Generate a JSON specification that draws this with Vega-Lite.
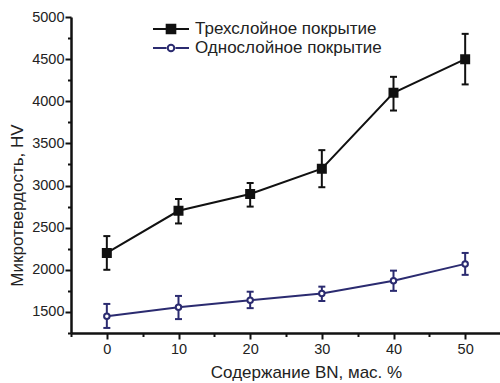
{
  "$schema": "https://vega.github.io/schema/vega-lite/v6.json",
  "width": 430,
  "height": 316,
  "autosize": {"type": "none"},
  "padding": {"left": 71, "top": 17, "right": 0, "bottom": 50},
  "background": "white",
  "config": {
    "view": {"stroke": null},
    "font": "Liberation Sans",
    "axis": {"grid": false, "domainColor": "#111", "tickColor": "#111", "labelColor": "#222", "titleColor": "#222", "labelFont": "Liberation Sans", "titleFont": "Liberation Sans", "titleFontWeight": "normal"}
  },
  "data": {
    "values": [
      {"x": 0, "series": "Трехслойное покрытие", "y": 2200, "lo": 2000, "hi": 2400},
      {"x": 10, "series": "Трехслойное покрытие", "y": 2700, "lo": 2550, "hi": 2840},
      {"x": 20, "series": "Трехслойное покрытие", "y": 2900, "lo": 2750, "hi": 3030},
      {"x": 30, "series": "Трехслойное покрытие", "y": 3200, "lo": 2980, "hi": 3420},
      {"x": 40, "series": "Трехслойное покрытие", "y": 4100, "lo": 3890, "hi": 4290},
      {"x": 50, "series": "Трехслойное покрытие", "y": 4500, "lo": 4200, "hi": 4800},
      {"x": 0, "series": "Однослойное покрытие", "y": 1450, "lo": 1310, "hi": 1595},
      {"x": 10, "series": "Однослойное покрытие", "y": 1555, "lo": 1415, "hi": 1690},
      {"x": 20, "series": "Однослойное покрытие", "y": 1640, "lo": 1545, "hi": 1740},
      {"x": 30, "series": "Однослойное покрытие", "y": 1720, "lo": 1630, "hi": 1800},
      {"x": 40, "series": "Однослойное покрытие", "y": 1870, "lo": 1750, "hi": 1990},
      {"x": 50, "series": "Однослойное покрытие", "y": 2070, "lo": 1940, "hi": 2200}
    ]
  },
  "resolve": {"axis": {"x": "independent", "y": "independent"}, "scale": {"shape": "independent", "stroke": "independent", "fill": "independent"}},
  "layer": [
    {
      "mark": {"type": "line", "strokeWidth": 2},
      "encoding": {
        "x": {"field": "x", "type": "quantitative", "scale": {"domain": [-5, 55], "nice": false, "zero": false},
          "axis": {"orient": "bottom", "values": [0, 10, 20, 30, 40, 50], "format": "d", "title": "Содержание BN, мас. %", "domainWidth": 2.5, "tickSize": 6, "tickWidth": 2, "labelFontSize": 14.5, "labelPadding": 3, "titleFontSize": 17, "titleX": 235, "titleY": 44, "titleBaseline": "alphabetic", "titleAlign": "center", "titleAnchor": null}},
        "y": {"field": "y", "type": "quantitative", "scale": {"domain": [1250, 5000], "nice": false, "zero": false},
          "axis": {"orient": "left", "values": [1500, 2000, 2500, 3000, 3500, 4000, 4500, 5000], "format": "d", "title": "Микротвердость, HV", "domainWidth": 2.5, "tickSize": 6, "tickWidth": 2, "labelFontSize": 14.5, "labelPadding": 1, "titleFontSize": 17, "titleAngle": 270, "titleX": -49, "titleY": 188, "titleBaseline": "alphabetic", "titleAlign": "center", "titleAnchor": null}},
        "detail": {"field": "series"},
        "stroke": {"field": "series", "type": "nominal", "scale": {"domain": ["Трехслойное покрытие", "Однослойное покрытие"], "range": ["#111111", "#2b2b70"]}, "legend": null}
      }
    },
    {
      "mark": {"type": "rule", "strokeWidth": 2},
      "encoding": {
        "x": {"field": "x", "type": "quantitative",
          "axis": {"orient": "bottom", "values": [-5, 5, 15, 25, 35, 45, 55], "labels": false, "domain": false, "title": null, "tickSize": 3.5, "tickWidth": 2}},
        "y": {"field": "lo", "type": "quantitative",
          "axis": {"orient": "left", "values": [1250, 1750, 2250, 2750, 3250, 3750, 4250, 4750], "labels": false, "domain": false, "title": null, "tickSize": 3.5, "tickWidth": 2}},
        "y2": {"field": "hi"},
        "stroke": {"field": "series", "type": "nominal", "scale": {"domain": ["Трехслойное покрытие", "Однослойное покрытие"], "range": ["#111111", "#2b2b70"]}, "legend": null}
      }
    },
    {
      "mark": {"type": "tick", "orient": "horizontal", "size": 7, "thickness": 2, "opacity": 1},
      "encoding": {
        "x": {"field": "x", "type": "quantitative", "axis": null},
        "y": {"field": "lo", "type": "quantitative", "axis": null},
        "color": {"field": "series", "type": "nominal", "scale": {"domain": ["Трехслойное покрытие", "Однослойное покрытие"], "range": ["#111111", "#2b2b70"]}, "legend": null}
      }
    },
    {
      "mark": {"type": "tick", "orient": "horizontal", "size": 7, "thickness": 2, "opacity": 1},
      "encoding": {
        "x": {"field": "x", "type": "quantitative", "axis": null},
        "y": {"field": "hi", "type": "quantitative", "axis": null},
        "color": {"field": "series", "type": "nominal", "legend": null}
      }
    },
    {
      "mark": {"type": "point", "filled": true, "strokeWidth": 2, "opacity": 1},
      "encoding": {
        "x": {"field": "x", "type": "quantitative", "axis": null},
        "y": {"field": "y", "type": "quantitative", "axis": null},
        "shape": {"field": "series", "type": "nominal", "scale": {"domain": ["Трехслойное покрытие", "Однослойное покрытие"], "range": ["square", "circle"]}, "legend": null},
        "size": {"field": "series", "type": "nominal", "scale": {"domain": ["Трехслойное покрытие", "Однослойное покрытие"], "range": [64, 30]}, "legend": null},
        "stroke": {"field": "series", "type": "nominal", "scale": {"domain": ["Трехслойное покрытие", "Однослойное покрытие"], "range": ["#111111", "#2b2b70"]}, "legend": null},
        "fill": {"field": "series", "type": "nominal", "scale": {"domain": ["Трехслойное покрытие", "Однослойное покрытие"], "range": ["#111111", "#ffffff"]}, "legend": null}
      }
    },
    {
      "mark": {"type": "point", "filled": true, "opacity": 0, "strokeWidth": 2},
      "encoding": {
        "x": {"field": "x", "type": "quantitative", "axis": null},
        "y": {"field": "y", "type": "quantitative", "axis": null},
        "stroke": {"field": "series", "type": "nominal", "scale": {"domain": ["Трехслойное покрытие", "Однослойное покрытие"], "range": ["#111111", "#2b2b70"]}},
        "fill": {"field": "series", "type": "nominal", "scale": {"domain": ["Трехслойное покрытие", "Однослойное покрытие"], "range": ["#111111", "#ffffff"]}},
        "shape": {"field": "series", "type": "nominal",
          "scale": {"domain": ["Трехслойное покрытие", "Однослойное покрытие"], "range": ["M-2,0H-0.48M0.48,0H2M-0.48,-0.48H0.48V0.48H-0.48Z", "M-2,0H-0.5M0.5,0H2M-0.36,0A0.36,0.36 0 1,0 0.36,0A0.36,0.36 0 1,0 -0.36,0Z"]},
          "legend": {"orient": "none", "legendX": 90, "legendY": 2, "title": null, "padding": 0, "symbolSize": 324, "symbolStrokeWidth": 2, "symbolOpacity": 1, "labelFontSize": 17, "labelFont": "Liberation Sans", "labelColor": "#222", "labelOffset": 14, "labelLimit": 0, "rowPadding": 0}}
      }
    }
  ]
}
